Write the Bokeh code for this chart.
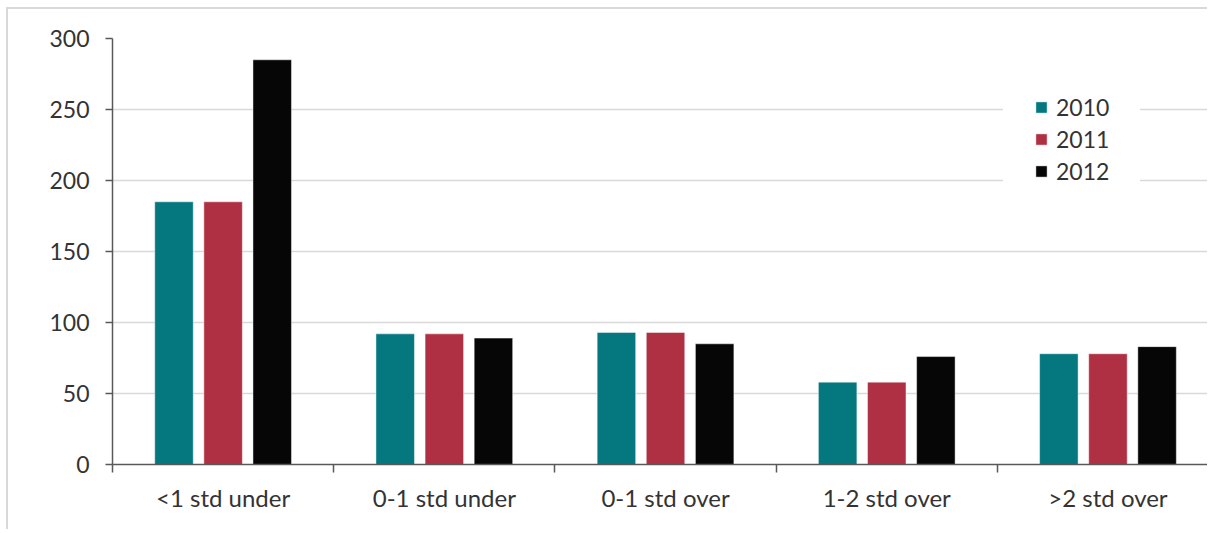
import numpy as np
from bokeh.plotting import figure
from bokeh.models import Range1d, FixedTicker, ColumnDataSource, Legend, LegendItem
from bokeh.embed import file_html
from bokeh.resources import INLINE

categories = ["<1 std under", "0-1 std under", "0-1 std over", "1-2 std over", ">2 std over"]
years = ["2010", "2011", "2012"]
v2010 = [185, 92, 93, 58, 78]
v2011 = [185, 92, 93, 58, 78]
v2012 = [285, 89, 85, 76, 83]
colors = ["#04777F", "#AF3043", "#060606"]

FONT = "Lato"
LABEL_COLOR = "#333333"

p = figure(width=1201, height=522, output_backend="svg", toolbar_location=None,
           x_range=Range1d(0, 4.959), y_range=Range1d(0, 300),
           min_border_left=104, min_border_right=0, min_border_top=29, min_border_bottom=67)
p.styles = {"border-top": "2px solid #d9d9d9", "border-left": "2px solid #d9d9d9",
            "margin-left": "6px", "margin-top": "7px"}
p.outline_line_color = None
p.background_fill_color = "white"
p.border_fill_color = "white"

centers = np.arange(len(categories)) + 0.5
offsets = [-0.222, 0.0, 0.222]
series = [v2010, v2011, v2012]
renderers = []
for yr, vals, off, col in zip(years, series, offsets, colors):
    src = ColumnDataSource(dict(x=centers + off, top=vals))
    r = p.vbar(x="x", top="top", bottom=0, width=0.174, source=src,
               fill_color=col, line_color="white", line_alpha=0.45, line_width=1)
    renderers.append((yr, r))

# y axis
p.yaxis.ticker = FixedTicker(ticks=[0, 50, 100, 150, 200, 250, 300])
p.yaxis.axis_line_color = "#595959"
p.yaxis.axis_line_width = 1.5
p.yaxis.major_tick_line_color = "#595959"
p.yaxis.major_tick_line_width = 1.5
p.yaxis.major_tick_out = 7
p.yaxis.major_tick_in = 0
p.yaxis.minor_tick_line_color = None
p.yaxis.major_label_standoff = 16
p.yaxis.major_label_text_font = FONT
p.yaxis.major_label_text_font_size = "23px"
p.yaxis.major_label_text_color = LABEL_COLOR

# x axis: labels at category centers, ticks at boundaries (minor ticks)
p.xaxis.ticker = FixedTicker(ticks=list(centers), minor_ticks=list(range(len(categories) + 1)))
p.xaxis.major_label_overrides = {float(c): lab for c, lab in zip(centers, categories)}
p.xaxis.major_tick_line_color = None
p.xaxis.major_tick_out = 0
p.xaxis.major_tick_in = 0
p.xaxis.minor_tick_line_color = "#595959"
p.xaxis.minor_tick_line_width = 1.5
p.xaxis.minor_tick_out = 8
p.xaxis.minor_tick_in = 0
p.xaxis.axis_line_color = "#595959"
p.xaxis.axis_line_width = 1.5
p.xaxis.major_label_standoff = 10
p.xaxis.major_label_text_font = FONT
p.xaxis.major_label_text_font_size = "24px"
p.xaxis.major_label_text_color = LABEL_COLOR

p.xgrid.grid_line_color = None
p.ygrid.ticker = FixedTicker(ticks=[50, 100, 150, 200, 250, 300])
p.ygrid.grid_line_color = "#d9d9d9"
p.ygrid.grid_line_width = 1.5

legend = Legend(items=[LegendItem(label=yr, renderers=[r]) for yr, r in renderers],
                location=(891, 248), orientation="vertical")
legend.glyph_width = 14
legend.glyph_height = 14
legend.label_height = 27
legend.spacing = 4
legend.padding = 30
legend.margin = 0
legend.label_standoff = 8
legend.label_text_font = FONT
legend.label_text_font_size = "23px"
legend.label_text_color = LABEL_COLOR
legend.border_line_color = "white"
legend.border_line_width = 1
legend.background_fill_color = "white"
legend.background_fill_alpha = 1.0
p.add_layout(legend)

open("out.html", "w").write(file_html(p, INLINE))
